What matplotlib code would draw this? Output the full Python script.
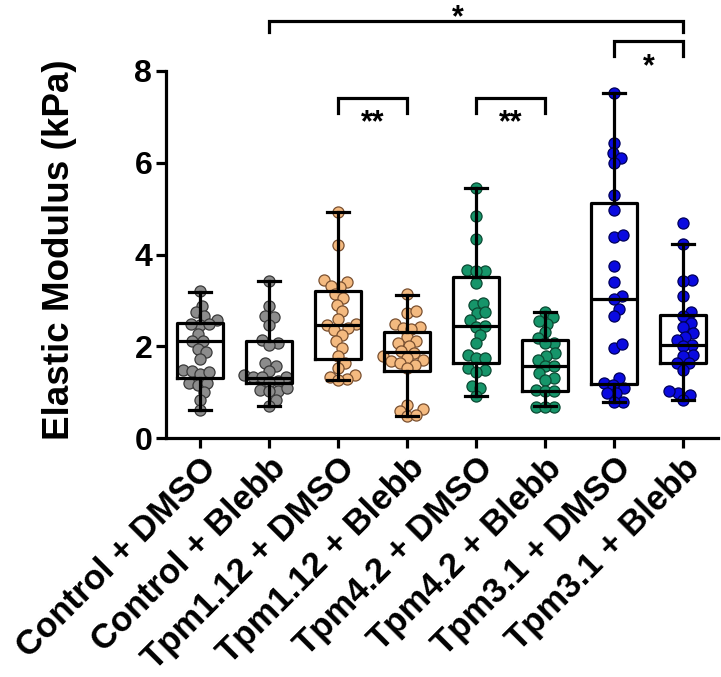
import numpy as np
import matplotlib
matplotlib.use("Agg")
import matplotlib.pyplot as plt

plt.rcParams['font.family'] = ['Liberation Sans', 'DejaVu Sans']
plt.rcParams['font.weight'] = 'bold'

categories = ["Control + DMSO", "Control + Blebb", "Tpm1.12 + DMSO", "Tpm1.12 + Blebb",
              "Tpm4.2 + DMSO", "Tpm4.2 + Blebb", "Tpm3.1 + DMSO", "Tpm3.1 + Blebb"]

control_dmso = [3.20, 2.87, 2.74, 2.58, 2.65, 2.47, 2.49, 2.49, 2.27, 2.11, 2.11, 1.95,
                1.87, 1.72, 1.49, 1.47, 1.40, 1.43, 1.20, 1.16, 1.20, 1.01, 0.83, 0.61]
control_blebb = [3.43, 2.87, 2.65, 2.63, 2.47, 2.14, 2.07, 2.03, 1.63, 1.56, 1.45, 1.38,
                 1.34, 1.34, 1.33, 1.25, 1.22, 1.05, 1.02, 1.08, 1.02, 0.83, 0.70]
tpm112_dmso = [4.93, 4.20, 3.45, 3.40, 3.29, 3.32, 3.13, 3.05, 2.91, 2.76, 2.59, 2.49, 2.47,
               2.35, 2.40, 2.25, 2.11, 1.96, 1.78, 1.63, 1.52, 1.38, 1.34, 1.28, 1.26]
tpm112_blebb = [3.13, 2.72, 2.76, 2.49, 2.40, 2.42, 2.38, 2.21, 2.11, 2.07, 2.00, 1.89, 1.85,
                1.78, 1.74, 1.70, 1.67, 1.63, 1.60, 1.52, 0.72, 0.63, 0.58, 0.47, 0.50]
tpm42_dmso = [5.46, 4.84, 4.33, 3.66, 3.64, 3.64, 3.38, 2.91, 2.94, 2.72, 2.74, 2.58, 2.43,
              2.45, 2.25, 2.07, 1.81, 1.74, 1.74, 1.49, 1.52, 1.43, 1.14, 1.09, 0.92]
tpm42_blebb = [2.74, 2.64, 2.49, 2.54, 2.30, 2.18, 2.07, 2.07, 1.85, 1.78, 1.69, 1.56, 1.56,
               1.41, 1.30, 1.27, 1.05, 1.02, 1.02, 0.68, 0.68, 0.67]
tpm31_dmso = [7.52, 6.44, 6.21, 6.11, 5.99, 5.29, 4.96, 4.38, 4.42, 3.74, 3.40, 3.10, 3.02,
              2.81, 2.65, 1.97, 2.05, 1.30, 1.20, 1.09, 1.16, 0.98, 0.99, 0.79, 0.79]
tpm31_blebb = [4.69, 4.22, 3.45, 3.43, 3.10, 2.75, 2.65, 2.51, 2.43, 2.29, 2.21, 2.14, 2.03,
               2.00, 1.81, 1.78, 1.63, 1.63, 1.49, 0.99, 1.03, 0.94, 0.83]

# box statistics
whisker_low = [0.61, 0.70, 1.27, 0.47, 0.92, 0.70, 0.79, 0.83]
q1 = [1.30, 1.20, 1.72, 1.45, 1.63, 1.03, 1.18, 1.63]
median = [2.12, 1.30, 2.46, 1.87, 2.45, 1.57, 3.04, 2.03]
q3 = [2.51, 2.11, 3.20, 2.31, 3.50, 2.14, 5.13, 2.69]
whisker_high = [3.18, 3.43, 4.93, 3.11, 5.46, 2.74, 7.52, 4.22]

groups = [control_dmso, control_blebb, tpm112_dmso, tpm112_blebb,
          tpm42_dmso, tpm42_blebb, tpm31_dmso, tpm31_blebb]
face_colors = ['#8c8c8c', '#8c8c8c', '#F4BA80', '#F4BA80', '#16956A', '#16956A', '#0A0AE0', '#0A0AE0']
edge_colors = ['#3a3a3a', '#3a3a3a', '#7a5030', '#7a5030', '#0b4a33', '#0b4a33', '#00005a', '#00005a']

# comparisons: (group a, group b, label)
comparisons = [(1, 7, '*'), (6, 7, '*'), (2, 3, '**'), (4, 5, '**')]

W, H = 721, 677
fig = plt.figure(figsize=(W / 100, H / 100), dpi=100)
ax_left, ax_right, ax_top, ax_bot = 165.5, 717.5, 71, 438
ax = fig.add_axes([ax_left / W, 1 - ax_bot / H, (ax_right - ax_left) / W, (ax_bot - ax_top) / H])
ax.set_xlim(-0.5, 7.5)
ax.set_ylim(0, 8)

xscale = (ax_right - ax_left) / 8.0
yscale = (ax_bot - ax_top) / 8.0


def swarm_offsets(vals, d_px):
    vals = np.asarray(vals, float)
    order = np.argsort(vals)
    placed = []
    offs = np.zeros(len(vals))
    for i in order:
        y = vals[i] * yscale
        cands = [0.0]
        for px, py in placed:
            dy = y - py
            if abs(dy) < d_px:
                dx = np.sqrt(d_px ** 2 - dy ** 2)
                cands += [px + dx, px - dx]
        cands = sorted(cands, key=abs)
        best = cands[-1]
        for c in cands:
            if all((c - px) ** 2 + (y - py) ** 2 >= d_px ** 2 - 1e-6 for px, py in placed):
                best = c
                break
        placed.append((best, y))
        offs[i] = best / xscale
    return offs


for i, vals in enumerate(groups):
    offs = swarm_offsets(vals, 9.0)
    ax.scatter(i + offs, vals, s=64, facecolor=face_colors[i], edgecolor=edge_colors[i],
               linewidth=0.9, zorder=2, clip_on=False)

stats = [dict(med=median[i], q1=q1[i], q3=q3[i], whislo=whisker_low[i],
              whishi=whisker_high[i], fliers=[]) for i in range(len(groups))]
lw = 2.3
ax.bxp(stats, positions=range(len(groups)), widths=0.68, showfliers=False,
       boxprops=dict(color='black', linewidth=lw),
       whiskerprops=dict(color='black', linewidth=lw),
       capprops=dict(color='black', linewidth=lw),
       medianprops=dict(color='black', linewidth=lw),
       capwidths=0.31, manage_ticks=False, zorder=3)

for sp in ['top', 'right']:
    ax.spines[sp].set_visible(False)
for sp in ['left', 'bottom']:
    ax.spines[sp].set_linewidth(2.3)

ax.set_yticks([0, 2, 4, 6, 8])
ax.set_yticklabels(['0', '2', '4', '6', '8'], fontsize=23, fontweight='bold')
ax.set_xticks(range(len(categories)))
ax.set_xticklabels(categories, fontsize=25, fontweight='bold', rotation=45,
                   ha='right', va='top', rotation_mode='anchor')
ax.tick_params(axis='both', length=7.5, width=2.3)
ax.tick_params(axis='y', pad=2)
ax.tick_params(axis='x', pad=2)
ax.set_ylabel('Elastic Modulus (kPa)', fontsize=26.5, fontweight='bold')
ax.yaxis.set_label_coords(-0.160, 0.512)

# significance brackets: (bracket top, leg bottom, text baseline, text x)
bracket_geom = {(1, 7): (9.10, 8.84, 8.98, 3.74), (6, 7): (8.66, 8.32, 7.91, 6.5),
                (2, 3): (7.42, 7.08, 6.69, 2.5), (4, 5): (7.42, 7.08, 6.69, 4.5)}
for a, b, lab in comparisons:
    top, leg, base, tx = bracket_geom[(a, b)]
    ax.plot([a, a, b, b], [leg, top, top, leg], color='black', lw=2.3, clip_on=False,
            solid_joinstyle='miter')
    ax.text(tx, base, lab, ha='center', va='baseline', fontsize=22, fontweight='bold')

fig.savefig('out.png', dpi=100)
